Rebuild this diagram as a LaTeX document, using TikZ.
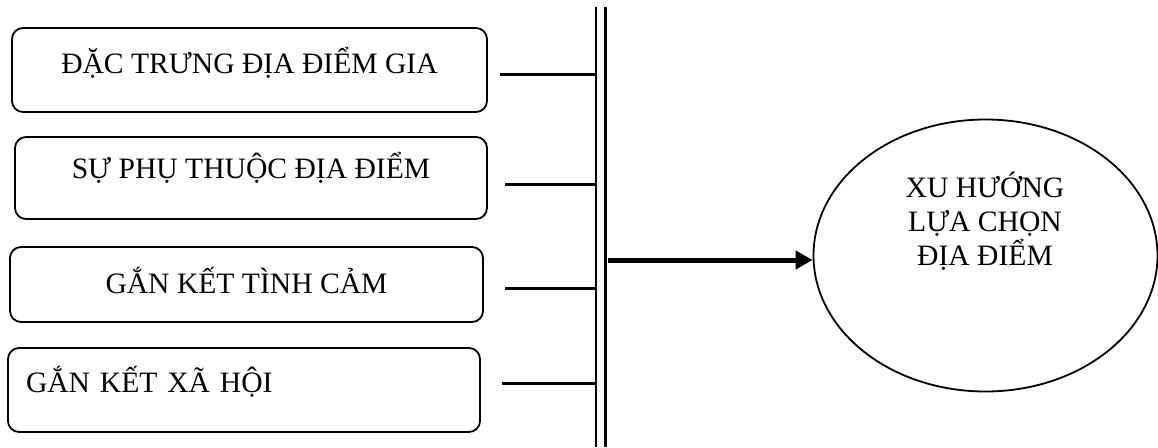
\documentclass[tikz,border=0pt]{standalone}
\usepackage{fontspec}
\setmainfont{Liberation Serif}
\usetikzlibrary{shapes.geometric,arrows.meta}
\begin{document}
\begin{tikzpicture}[x=1pt,y=-1pt,
  txt/.style={font=\fontsize{29.6}{34}\selectfont},
  box/.style={draw, rounded corners=11pt, line width=1.8pt, inner sep=0pt, anchor=base, txt},
  link/.style={line width=3pt},
  bar/.style={line width=1.2pt},
  thickbar/.style={line width=3pt},
  bigarrow/.style={line width=5pt, -{Triangle[length=17pt,width=18pt]}}]
\useasboundingbox (0,0) rectangle (1158,447);
% boxes
\node[box, minimum width=475pt, text height=45pt, text depth=39pt] (b1) at (249.5,73) {ĐẶC TRƯNG ĐỊA ĐIỂM GIA};
\node[box, minimum width=472pt, text height=41pt, text depth=41pt] (b2) at (251,178) {SỰ PHỤ THUỘC ĐỊA ĐIỂM};
\node[box, minimum width=473pt, text height=46pt, text depth=29pt] (b3) at (246.5,293) {GẮN KẾT TÌNH CẢM};
\node[box, inner xsep=18pt, text width=436pt, align=left, text height=44pt, text depth=40pt] (b4) at (244,392) {GẮN KẾT XÃ HỘI};
% double bar
\coordinate (ta) at (596,7); \coordinate (tb) at (596,447);
\coordinate (ua) at (605,7); \coordinate (ub) at (605,447);
\draw[bar] (ta) -- (tb);
\draw[thickbar] (ua) -- (ub);
% links
\coordinate (l1) at (500,74);
\coordinate (l2) at (505,184);
\coordinate (l3) at (505,288);
\coordinate (l4) at (502,383);
\draw[link] (l1) -- (l1 -| ta);
\draw[link] (l2) -- (l2 -| ta);
\draw[link] (l3) -- (l3 -| ta);
\draw[link] (l4) -- (l4 -| ta);
% ellipse
\node[ellipse, draw, line width=1.8pt, minimum width=344pt, minimum height=272pt, inner sep=0pt] (e) at (985.5,255.5) {};
\node[txt, align=center, anchor=base] (et) at (985,265) {XU HƯỚNG\\LỰA CHỌN\\ĐỊA ĐIỂM};
\coordinate (as) at (608,260);
\draw[bigarrow] (as) -- (as -| e.west);
\end{tikzpicture}
\end{document}
